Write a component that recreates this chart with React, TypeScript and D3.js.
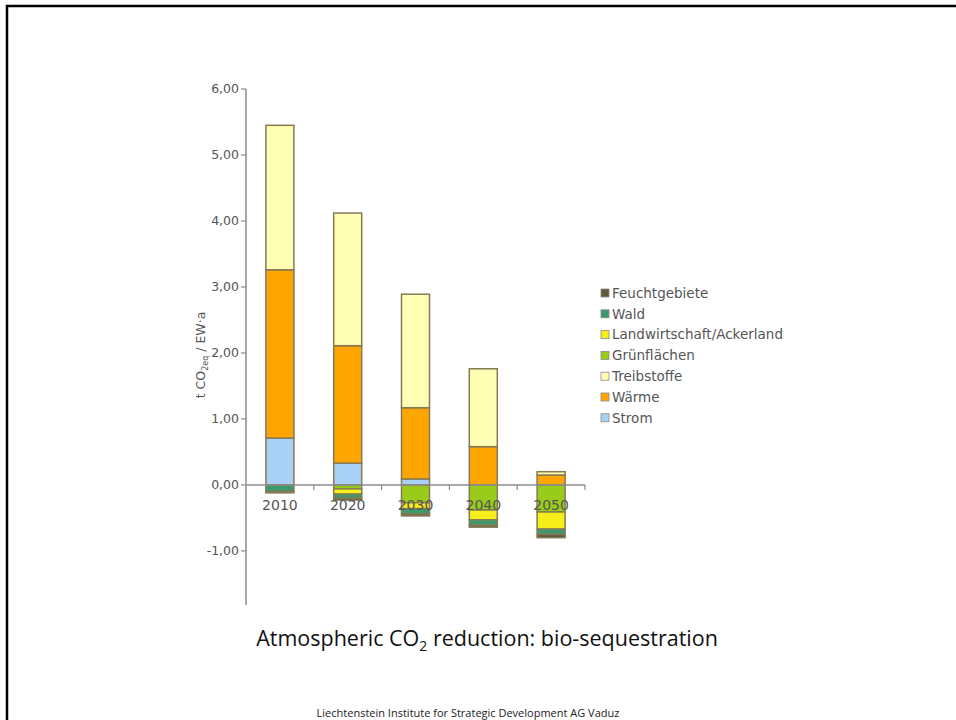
import React, { useRef, useEffect } from "react";
import * as d3 from "d3";

// Years on the x axis
const years = ["2010", "2020", "2030", "2040", "2050"];

// Series in stacking order (positives from the axis upward, negatives downward)
const seriesKeys = [
  "Strom",
  "Wärme",
  "Treibstoffe",
  "Grünflächen",
  "Landwirtschaft/Ackerland",
  "Wald",
  "Feuchtgebiete",
];

// t CO2eq / EW·a per year
const strom = [0.71, 0.33, 0.09, 0.0, 0.0];
const waerme = [2.55, 1.78, 1.08, 0.58, 0.15];
const treibstoffe = [2.19, 2.01, 1.72, 1.18, 0.05];
const gruenflaechen = [0.0, -0.06, -0.27, -0.38, -0.41];
const landwirtschaft = [0.0, -0.08, -0.09, -0.15, -0.26];
const wald = [-0.1, -0.06, -0.08, -0.08, -0.08];
const feuchtgebiete = [-0.02, -0.03, -0.03, -0.03, -0.05];

const seriesValues = [
  strom,
  waerme,
  treibstoffe,
  gruenflaechen,
  landwirtschaft,
  wald,
  feuchtgebiete,
];

const seriesColors = [
  "#a9d0f5",
  "#ffa500",
  "#ffffb3",
  "#99cc1a",
  "#f5ee1a",
  "#3a9a6e",
  "#5e5a3e",
];

// legend is listed top-down in reverse order
const legendOrder = [
  "Feuchtgebiete",
  "Wald",
  "Landwirtschaft/Ackerland",
  "Grünflächen",
  "Treibstoffe",
  "Wärme",
  "Strom",
];

const yTicks = [-1, 0, 1, 2, 3, 4, 5, 6];

export default function App() {
  const svgRef = useRef<SVGSVGElement>(null);

  useEffect(() => {
    if (!svgRef.current) return;
    const width = 956;
    const height = 720;

    const svg = d3.select(svgRef.current);
    svg.selectAll("*").remove();
    svg.attr("width", width).attr("height", height);

    svg.append("rect").attr("width", width).attr("height", height).attr("fill", "#fff");

    // slide border (top + left)
    svg
      .append("path")
      .attr("d", `M7,${height} V6 H${width}`)
      .attr("fill", "none")
      .attr("stroke", "#000")
      .attr("stroke-width", 2.5);

    // data table for the stack
    const rows = years.map((yr, i) => {
      const row: any = { year: yr };
      seriesKeys.forEach((k, j) => (row[k] = seriesValues[j][i]));
      return row;
    });

    const stack = d3
      .stack<any>()
      .keys(seriesKeys)
      .offset(d3.stackOffsetDiverging);
    const stacked = stack(rows);

    const x = d3.scaleBand().domain(years).range([246, 585]).paddingInner(0).paddingOuter(0);
    const y = d3.scaleLinear().domain([-1.82, 6]).range([605, 89]);
    const barW = 28;

    const axisColor = "#8c8c8c";
    const textColor = "#555";
    const fmt = (v: number) => d3.format(".2f")(v).replace(".", ",").replace("−", "-");

    // y axis
    const gy = svg.append("g");
    gy.append("line")
      .attr("x1", 246)
      .attr("x2", 246)
      .attr("y1", y(6))
      .attr("y2", y(-1.82))
      .attr("stroke", axisColor)
      .attr("stroke-width", 1.5);
    yTicks.forEach((t) => {
      gy.append("line")
        .attr("x1", 241)
        .attr("x2", 246)
        .attr("y1", y(t))
        .attr("y2", y(t))
        .attr("stroke", axisColor)
        .attr("stroke-width", 1.2);
      gy.append("text")
        .attr("x", 239)
        .attr("y", y(t))
        .attr("dy", "0.35em")
        .attr("text-anchor", "end")
        .attr("font-family", "DejaVu Sans, Verdana, sans-serif")
        .attr("font-size", 12.5)
        .attr("fill", textColor)
        .text(fmt(t));
    });

    // y axis title
    const yt = svg
      .append("text")
      .attr("transform", `translate(205,355) rotate(-90)`)
      .attr("text-anchor", "middle")
      .attr("font-family", "DejaVu Sans, Verdana, sans-serif")
      .attr("font-size", 12.5)
      .attr("fill", textColor);
    yt.append("tspan").text("t CO");
    yt.append("tspan").attr("font-size", 8).attr("dy", 3).text("2eq");
    yt.append("tspan").attr("dy", -3).text(" / EW·a");

    // bars
    stacked.forEach((s, si) => {
      svg
        .append("g")
        .selectAll("rect")
        .data(s)
        .join("rect")
        .filter((d) => d[1] - d[0] !== 0)
        .attr("x", (d) => (x(d.data.year) as number) + x.bandwidth() / 2 - barW / 2)
        .attr("width", barW)
        .attr("y", (d) => y(Math.max(d[0], d[1])))
        .attr("height", (d) => Math.abs(y(d[0]) - y(d[1])))
        .attr("fill", seriesColors[si])
        .attr("stroke", "#857a55")
        .attr("stroke-width", 1.5);
    });

    // x axis
    const gx = svg.append("g");
    gx.append("line")
      .attr("x1", 246)
      .attr("x2", 585)
      .attr("y1", y(0))
      .attr("y2", y(0))
      .attr("stroke", axisColor)
      .attr("stroke-width", 1.5);
    years.forEach((yr) => {
      const bx = (x(yr) as number) + x.bandwidth();
      gx.append("line")
        .attr("x1", bx)
        .attr("x2", bx)
        .attr("y1", y(0))
        .attr("y2", y(0) + 5)
        .attr("stroke", axisColor)
        .attr("stroke-width", 1.2);
      gx.append("text")
        .attr("x", (x(yr) as number) + x.bandwidth() / 2)
        .attr("y", y(0) + 25)
        .attr("text-anchor", "middle")
        .attr("font-family", "DejaVu Sans, Verdana, sans-serif")
        .attr("font-size", 14)
        .attr("fill", textColor)
        .text(yr);
    });

    // legend
    const lg = svg.append("g");
    legendOrder.forEach((name, i) => {
      const idx = seriesKeys.indexOf(name);
      const ly = 293 + i * 20.8;
      lg.append("rect")
        .attr("x", 601)
        .attr("y", ly - 4)
        .attr("width", 8)
        .attr("height", 8)
        .attr("fill", seriesColors[idx])
        .attr("stroke", "#8a8a8a")
        .attr("stroke-width", 0.8);
      lg.append("text")
        .attr("x", 612)
        .attr("y", ly)
        .attr("dy", "0.35em")
        .attr("font-family", "DejaVu Sans, Verdana, sans-serif")
        .attr("font-size", 13.5)
        .attr("fill", textColor)
        .text(name);
    });

    // caption
    const cap = svg
      .append("text")
      .attr("x", 487)
      .attr("y", 646)
      .attr("text-anchor", "middle")
      .attr("font-family", "Open Sans, sans-serif")
      .attr("font-size", 21.5)
      .attr("fill", "#111");
    cap.append("tspan").text("Atmospheric CO");
    cap.append("tspan").attr("font-size", 14).attr("dy", 5).text("2");
    cap.append("tspan").attr("dy", -5).text(" reduction: bio-sequestration");

    // footer
    svg
      .append("text")
      .attr("x", 468)
      .attr("y", 717)
      .attr("text-anchor", "middle")
      .attr("font-family", "Open Sans, sans-serif")
      .attr("font-size", 11)
      .attr("fill", "#222")
      .text("Liechtenstein Institute for Strategic Development AG Vaduz");
  }, []);

  return (
    <div style={{ position: "absolute", left: 0, top: 0 }}>
      <svg ref={svgRef} style={{ display: "block" }}></svg>
    </div>
  );
}
